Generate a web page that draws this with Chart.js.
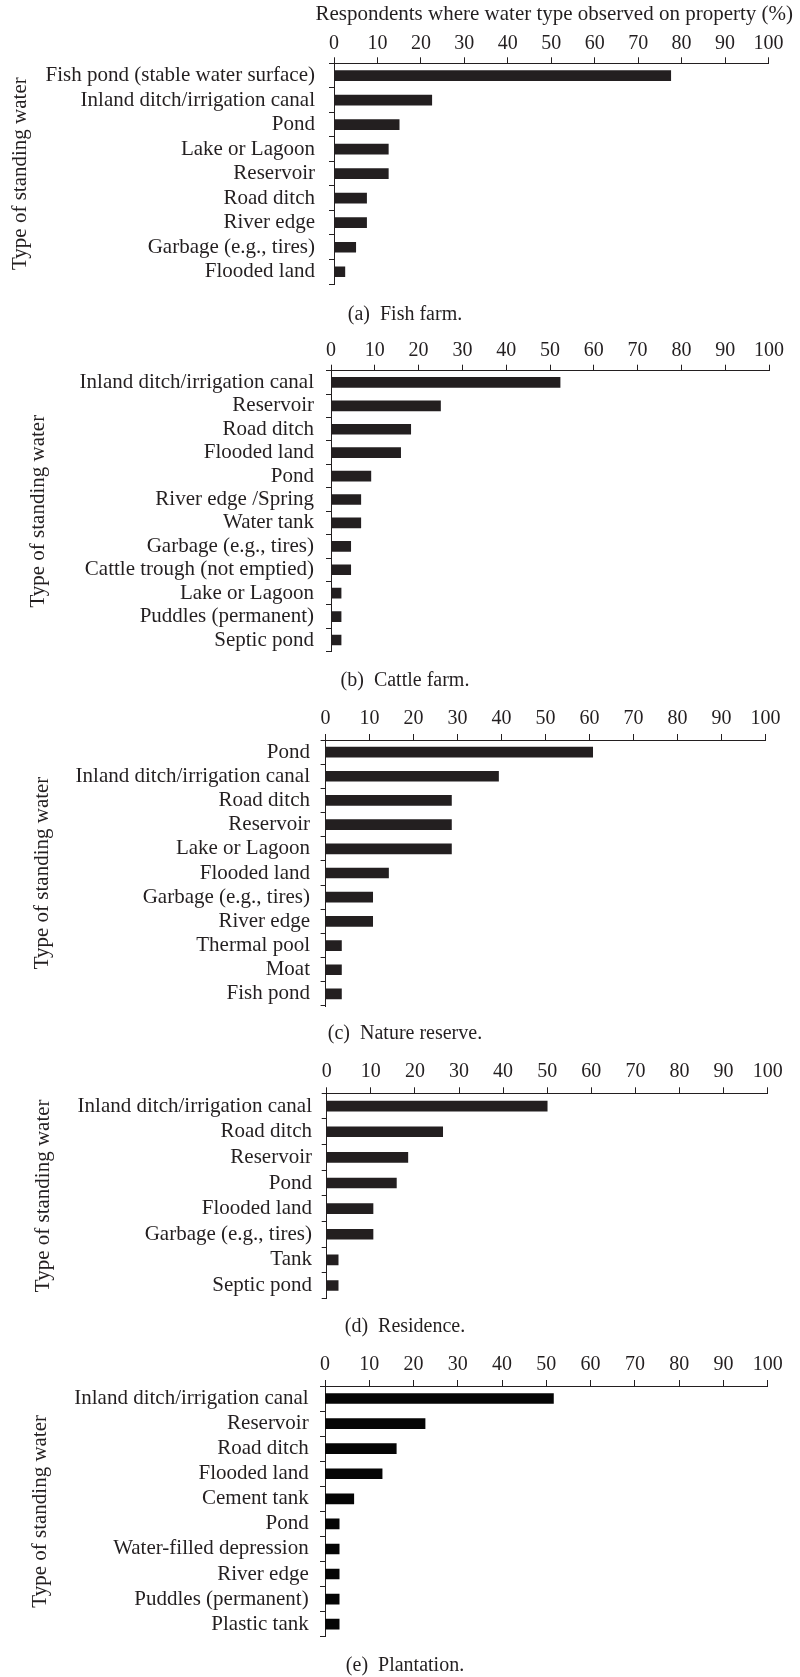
<!DOCTYPE html>
<html>
<head>
<meta charset="utf-8">
<title>Type of standing water by property</title>
<script src="https://cdn.jsdelivr.net/npm/chart.js@4.4.1/dist/chart.umd.min.js"></script>
<style>
  html, body { margin: 0; padding: 0; background: #fff; }
  body { width: 800px; overflow: hidden; }
  .panel { position: relative; width: 800px; }
  .box { position: absolute; left: 0; top: 0; width: 800px; }
  .cap, .xtitle {
    position: absolute; white-space: pre; color: #231f20;
    font-family: "Liberation Serif", "Times New Roman", serif;
  }
  .cap { left: 10px; width: 790px; text-align: center; font-size: 20px; line-height: 24px; }
  .xtitle { transform: translateX(-50%); font-size: 21px; line-height: 25px; }
</style>
</head>
<body>
<div id="figure"></div>
<script>
// ── data ────────────────────────────────────────────────────────────────────

const xTicks = [0, 10, 20, 30, 40, 50, 60, 70, 80, 90, 100]

const fishLabels = [
  "Fish pond (stable water surface)", "Inland ditch/irrigation canal", "Pond",
  "Lake or Lagoon", "Reservoir", "Road ditch", "River edge",
  "Garbage (e.g., tires)", "Flooded land"
]
const fishValues = [77.5, 22.5, 15.0, 12.5, 12.5, 7.5, 7.5, 5.0, 2.5]

const cattleLabels = [
  "Inland ditch/irrigation canal", "Reservoir", "Road ditch", "Flooded land",
  "Pond", "River edge /Spring", "Water tank", "Garbage (e.g., tires)",
  "Cattle trough (not emptied)", "Lake or Lagoon", "Puddles (permanent)", "Septic pond"
]
const cattleValues = [52.3, 25.0, 18.2, 15.9, 9.1, 6.8, 6.8, 4.5, 4.5, 2.3, 2.3, 2.3]

const reserveLabels = [
  "Pond", "Inland ditch/irrigation canal", "Road ditch", "Reservoir",
  "Lake or Lagoon", "Flooded land", "Garbage (e.g., tires)", "River edge",
  "Thermal pool", "Moat", "Fish pond"
]
const reserveValues = [60.7, 39.3, 28.6, 28.6, 28.6, 14.3, 10.7, 10.7, 3.6, 3.6, 3.6]

const residenceLabels = [
  "Inland ditch/irrigation canal", "Road ditch", "Reservoir", "Pond",
  "Flooded land", "Garbage (e.g., tires)", "Tank", "Septic pond"
]
const residenceValues = [50.0, 26.3, 18.4, 15.8, 10.5, 10.5, 2.6, 2.6]

const plantationLabels = [
  "Inland ditch/irrigation canal", "Reservoir", "Road ditch", "Flooded land",
  "Cement tank", "Pond", "Water-filled depression", "River edge",
  "Puddles (permanent)", "Plastic tank"
]
const plantationValues = [51.6, 22.6, 16.1, 12.9, 6.5, 3.2, 3.2, 3.2, 3.2, 3.2]

const xTitle = "Respondents where water type observed on property (%)"
const yTitle = "Type of standing water"

// ── panel geometry (px, relative to each panel's top) ───────────────────────

const INK = "#231f20"

const panels = [
  { labels: fishLabels, values: fishValues, caption: "(a)\u2002Fish farm.", title: xTitle, bar: INK,
    height: 330, labelY: 44, axisY: 63.3, bottomY: 284, captionY: 312.5,
    x0: 334, x100: 768.5, yTitleX: 20, labelRight: 315 },
  { labels: cattleLabels, values: cattleValues, caption: "(b)\u2002Cattle farm.", bar: INK,
    height: 365, labelY: 20.7, axisY: 40.7, bottomY: 321.7, captionY: 348.5,
    x0: 331, x100: 769, yTitleX: 38, labelRight: 314 },
  { labels: reserveLabels, values: reserveValues, caption: "(c)\u2002Nature reserve.", bar: INK,
    height: 350, labelY: 23.3, axisY: 45, bottomY: 311, captionY: 336.5,
    x0: 325.6, x100: 765.6, yTitleX: 42, labelRight: 310 },
  { labels: residenceLabels, values: residenceValues, caption: "(d)\u2002Residence.", bar: INK,
    height: 295, labelY: 26.7, axisY: 48.3, bottomY: 253.3, captionY: 280.2,
    x0: 326.7, x100: 767.7, yTitleX: 43, labelRight: 312 },
  { labels: plantationLabels, values: plantationValues, caption: "(e)\u2002Plantation.", bar: "#050505",
    height: 337, labelY: 25, axisY: 46, bottomY: 296.7, captionY: 323.5,
    x0: 325, x100: 767.7, yTitleX: 40, labelRight: 308.7 }
]

Chart.defaults.font.family = "'Liberation Serif', 'Times New Roman', serif"
Chart.defaults.color = INK

function addText(parent, cls, text, css) {
  const el = document.createElement("div")
  el.className = cls
  el.textContent = text
  Object.assign(el.style, css)
  parent.appendChild(el)
}

function drawPanel(p) {
  const wrap = document.createElement("div")
  wrap.className = "panel"
  wrap.style.height = p.height + "px"

  const box = document.createElement("div")
  box.className = "box"
  box.style.height = p.height + "px"
  const canvas = document.createElement("canvas")
  box.appendChild(canvas)
  wrap.appendChild(box)

  // the axis title runs past the plot's right edge, so it is set as page text
  // rather than through the scale title (which would squeeze it to the axis width)
  if (p.title) {
    addText(wrap, "xtitle", p.title, { top: "1px", left: ((p.x0 + p.x100) / 2 + 3) + "px" })
  }
  addText(wrap, "cap", p.caption, { top: (p.captionY - 12) + "px" })

  document.getElementById("figure").appendChild(wrap)

  new Chart(canvas, {
    type: "bar",
    data: {
      labels: p.labels,
      datasets: [{
        data: p.values,
        backgroundColor: p.bar,
        borderWidth: 0,
        barThickness: 10
      }]
    },
    options: {
      indexAxis: "y",
      responsive: true,
      maintainAspectRatio: false,
      animation: false,
      layout: { padding: { left: 0, top: 0, right: 800 - p.x100, bottom: p.height - p.bottomY } },
      plugins: { legend: { display: false }, tooltip: { enabled: false } },
      scales: {
        x: {
          type: "linear",
          position: "top",
          min: 0,
          max: 100,
          afterBuildTicks: s => { s.ticks = xTicks.map(v => ({ value: v })) },
          afterFit: s => { s.height = p.axisY },
          border: { display: true, color: INK, width: 1 },
          grid: { drawOnChartArea: false, drawTicks: true, tickLength: 6, color: INK, lineWidth: 1 },
          ticks: {
            font: { size: 20, lineHeight: 1.2 },
            color: INK,
            padding: p.axisY - 6 - 12 - p.labelY,
            maxRotation: 0,
            autoSkip: false
          }
        },
        y: {
          type: "category",
          offset: true,
          afterFit: s => { s.width = p.x0 },
          border: { display: true, color: INK, width: 1 },
          grid: { offset: true, drawOnChartArea: false, drawTicks: true, tickLength: 5, color: INK, lineWidth: 1 },
          ticks: {
            font: { size: 21, lineHeight: 1.2 },
            color: INK,
            padding: p.x0 - 5 - p.labelRight,
            autoSkip: false
          },
          title: {
            display: true,
            text: yTitle,
            font: { size: 21, lineHeight: 1.2 },
            color: INK,
            padding: { top: p.yTitleX - 12.6, bottom: 0 }
          }
        }
      }
    }
  })
}

panels.forEach(drawPanel)
</script>
</body>
</html>
